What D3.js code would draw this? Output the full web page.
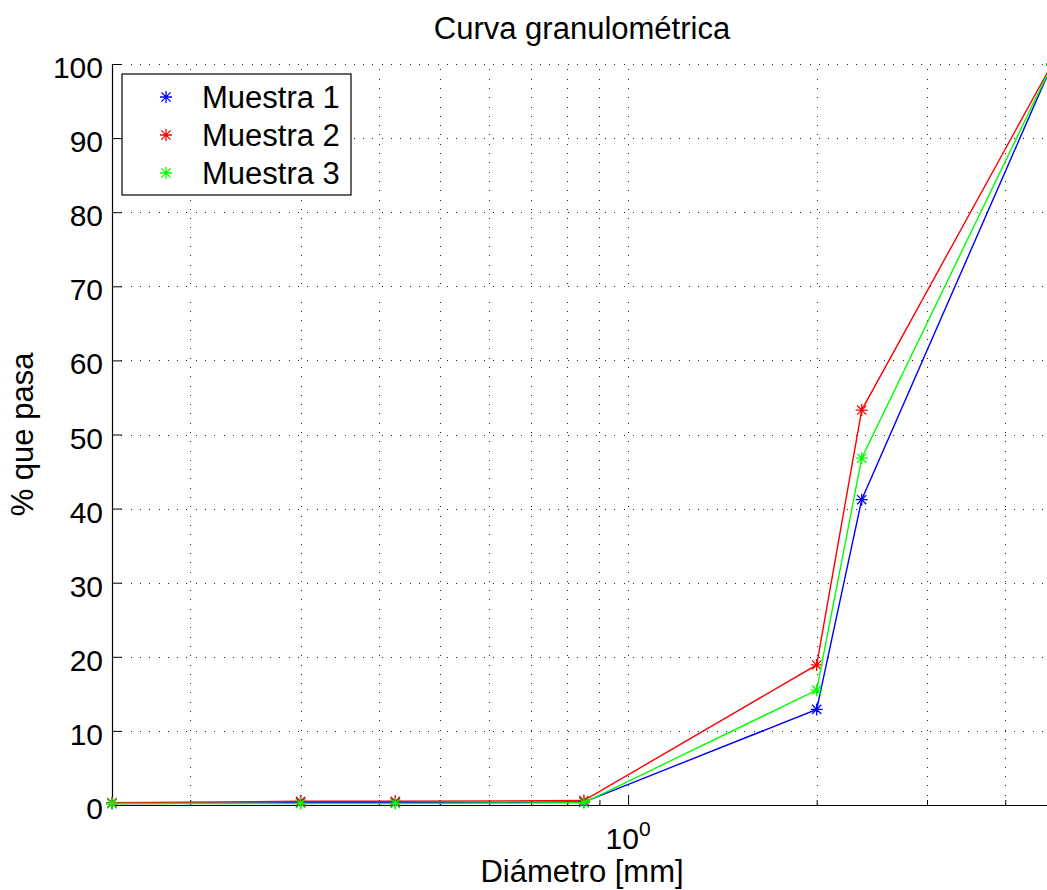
<!DOCTYPE html>
<html>
<head>
<meta charset="utf-8">
<script src="https://cdn.jsdelivr.net/npm/d3@7"></script>
<style>
  html, body { margin: 0; padding: 0; background: #fff; }
  svg { display: block; font-family: "Liberation Sans", Arial, Helvetica, sans-serif; }
</style>
</head>
<body>
<svg id="chart" width="1047" height="890"></svg>
<script>
// Sieve openings (mm) and percent passing for each sample
const diametros = [0.15, 0.3, 0.425, 0.85, 2.0, 2.36, 4.75];
const muestra1 = [0.2, 0.3, 0.3, 0.4, 12.9, 41.2, 99.9];
const muestra2 = [0.3, 0.5, 0.5, 0.6, 18.9, 53.3, 100];
const muestra3 = [0.2, 0.2, 0.2, 0.3, 15.5, 46.8, 99.9];

const seriesNames = ["Muestra 1", "Muestra 2", "Muestra 3"];
const seriesColors = ["#0000ff", "#ff0000", "#00ff00"];

const yTicks = [0, 10, 20, 30, 40, 50, 60, 70, 80, 90, 100];
const xMajorTicks = [1];
const xMinorTicks = [0.2, 0.3, 0.4, 0.5, 0.6, 0.7, 0.8, 0.9, 2, 3, 4];

const titleText = "Curva granulométrica";
const xLabelText = "Diámetro [mm]";
const yLabelText = "% que pasa";

const svg = d3.select("#chart");
const plotLeft = 112, plotRight = 1052, plotTop = 64, plotBottom = 805;

const x = d3.scaleLog().domain([0.15, 4.75]).range([plotLeft, plotRight]);
const y = d3.scaleLinear().domain([0, 100]).range([plotBottom, plotTop]);

const dotted = "1,8.3";

// grid lines
svg.append("g")
  .attr("transform", `translate(${plotLeft},0)`)
  .call(d3.axisLeft(y).tickValues(yTicks.filter(d => d > 0)).tickSize(-(plotRight - plotLeft)).tickFormat(""))
  .call(g => g.select(".domain").remove())
  .call(g => g.selectAll("line").attr("stroke", "#222").attr("stroke-dasharray", dotted).attr("shape-rendering", "crispEdges"));

svg.append("g")
  .attr("transform", `translate(0,${plotBottom})`)
  .call(d3.axisBottom(x).tickValues(xMinorTicks.concat(xMajorTicks)).tickSize(-(plotBottom - plotTop)).tickFormat(""))
  .call(g => g.select(".domain").remove())
  .call(g => g.selectAll("line").attr("stroke", "#222").attr("stroke-dasharray", dotted).attr("shape-rendering", "crispEdges"));

// x axis: minor and major ticks pointing into the plot
svg.append("g")
  .attr("transform", `translate(0,${plotBottom})`)
  .call(d3.axisBottom(x).tickValues(xMinorTicks).tickSize(-5).tickSizeOuter(0).tickFormat(""))
  .call(g => g.selectAll("line").attr("stroke", "#000"))
  .call(g => g.select(".domain").attr("stroke", "#000").attr("stroke-width", 1.2));

svg.append("g")
  .attr("transform", `translate(0,${plotBottom})`)
  .call(d3.axisBottom(x).tickValues(xMajorTicks).tickSize(-10).tickSizeOuter(0).tickFormat(""))
  .call(g => g.select(".domain").remove())
  .call(g => g.selectAll("line").attr("stroke", "#000"));

// decade label 10^0
xMajorTicks.forEach(v => {
  const t = svg.append("text")
    .attr("x", x(v))
    .attr("y", 849)
    .attr("text-anchor", "middle")
    .attr("font-size", 30)
    .attr("fill", "#000");
  t.append("tspan").text("10");
  t.append("tspan").attr("font-size", 21).attr("dy", -13).text(String(Math.round(Math.log10(v))));
});

// y axis
svg.append("g")
  .attr("transform", `translate(${plotLeft},0)`)
  .call(d3.axisLeft(y).tickValues(yTicks).tickSize(-10).tickSizeOuter(0).tickPadding(9))
  .call(g => g.select(".domain").attr("stroke", "#000").attr("stroke-width", 1.2))
  .call(g => g.selectAll("line").attr("stroke", "#000"))
  .call(g => g.selectAll("text")
    .attr("font-size", 30)
    .attr("font-family", "\"Liberation Sans\", Arial, Helvetica, sans-serif")
    .attr("fill", "#000")
    .attr("dy", "0.45em"));

// asterisk marker made of a plus and a cross
function asterisk(g, cx, cy, color) {
  const r = 6, d = 4.6;
  const p = `M${cx - r},${cy}L${cx + r},${cy}M${cx},${cy - r}L${cx},${cy + r}` +
            `M${cx - d},${cy - d}L${cx + d},${cy + d}M${cx - d},${cy + d}L${cx + d},${cy - d}`;
  g.append("path").attr("d", p).attr("stroke", color).attr("stroke-width", 1.3).attr("fill", "none");
}

// series
const allSeries = [muestra1, muestra2, muestra3];
const line = d3.line().x(d => x(d[0])).y(d => y(d[1]));
const plot = svg.append("g");
allSeries.forEach((vals, i) => {
  const pts = diametros.map((dm, j) => [dm, vals[j]]);
  plot.append("path")
    .datum(pts)
    .attr("d", line)
    .attr("fill", "none")
    .attr("stroke", seriesColors[i])
    .attr("stroke-width", 1.4);
  pts.forEach(p => asterisk(plot, x(p[0]), y(p[1]), seriesColors[i]));
});

// legend
const lg = svg.append("g");
lg.append("rect")
  .attr("x", 122).attr("y", 74).attr("width", 229).attr("height", 121)
  .attr("fill", "#fff").attr("stroke", "#000").attr("stroke-width", 1.2);
seriesNames.forEach((name, i) => {
  const cy = 97 + i * 38;
  asterisk(lg, 166, cy, seriesColors[i]);
  lg.append("text")
    .attr("x", 202).attr("y", cy + 11)
    .attr("font-size", 31).attr("fill", "#000")
    .text(name);
});

// title and axis labels
svg.append("text")
  .attr("x", (plotLeft + plotRight) / 2).attr("y", 39)
  .attr("text-anchor", "middle").attr("font-size", 31).attr("fill", "#000")
  .text(titleText);

svg.append("text")
  .attr("x", (plotLeft + plotRight) / 2).attr("y", 882)
  .attr("text-anchor", "middle").attr("font-size", 31).attr("fill", "#000")
  .text(xLabelText);

svg.append("text")
  .attr("transform", `translate(33,${(plotTop + plotBottom) / 2}) rotate(-90)`)
  .attr("text-anchor", "middle").attr("font-size", 31).attr("fill", "#000")
  .text(yLabelText);
</script>
</body>
</html>
